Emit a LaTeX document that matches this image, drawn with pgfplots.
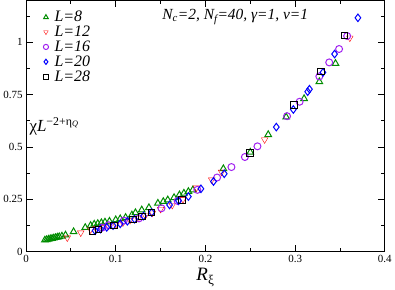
\documentclass[border=0pt]{standalone}
\usepackage{pgfplots}
\pgfplotsset{compat=1.18}
\usepackage{fontspec}
\setmainfont{Liberation Serif}
\definecolor{cgreen}{RGB}{0,140,0}
\definecolor{cred}{RGB}{255,0,0}
\definecolor{cpurple}{RGB}{160,32,240}
\definecolor{cblue}{RGB}{0,0,255}
\begin{document}
\begin{tikzpicture}
\begin{axis}[
  scale only axis,
  width=360pt, height=252pt,
  xmin=0, xmax=0.4, ymin=0, ymax=1.2,
  xtick={0,0.1,0.2,0.3,0.4},
  xticklabels={0,0.1,0.2,0.3,0.4},
  ytick={0,0.25,0.5,0.75,1},
  yticklabels={0,0.25,0.5,0.75,1},
  minor xtick={0.05,0.15,0.25,0.35},
  minor ytick={0.125,0.375,0.625,0.875,1.125},
  tick align=inside,
  major tick length=7pt, minor tick length=4pt,
  every tick/.style={black, line width=0.8pt},
  axis line style={line width=0.9pt},
  tick label style={font=\fontsize{11}{12}\selectfont},
  /pgf/number format/assume math mode=true,
  xlabel={\fontsize{19}{20}\selectfont\textit{R}\textsubscript{ξ}},
  xlabel style={yshift=1pt},
  legend style={draw=none, fill=none, at={(0.045,0.97)}, anchor=north west,
    font=\fontsize{16}{16}\selectfont\itshape, row sep=-1.2pt, inner sep=1pt},
  legend cell align=left,
  legend image post style={mark size=2.6pt},
  every axis plot/.append style={only marks, mark options={solid, line width=1pt, fill=none}},
]
\addplot[cgreen, mark=triangle, mark size=3.8pt] coordinates {
(0.021,0.055)(0.023,0.057)(0.025,0.059)(0.027,0.061)(0.029,0.063)(0.031,0.065)
(0.033,0.067)(0.035,0.069)(0.037,0.071)(0.040,0.074)(0.044,0.079)(0.053,0.095)
(0.066,0.115)(0.072,0.125)(0.076,0.131)(0.080,0.134)(0.084,0.138)(0.088,0.141)
(0.093,0.145)(0.100,0.152)(0.105,0.157)(0.111,0.163)(0.118,0.175)(0.122,0.186)
(0.129,0.199)(0.137,0.210)(0.147,0.231)(0.153,0.239)(0.158,0.247)(0.165,0.258)
(0.171,0.271)(0.176,0.279)(0.181,0.287)(0.186,0.295)(0.220,0.396)(0.250,0.475)
(0.270,0.559)(0.290,0.643)(0.310,0.731)(0.327,0.812)(0.345,0.899)
};
\addlegendentry{\hspace{4pt}L=8}
\addplot[cred, mark=triangle, mark options={rotate=180}, mark size=3.8pt] coordinates {
(0.046,0.066)(0.061,0.090)(0.072,0.105)(0.078,0.110)(0.085,0.116)(0.092,0.122)
(0.100,0.128)(0.108,0.138)(0.116,0.150)(0.125,0.160)(0.133,0.172)(0.141,0.185)
(0.150,0.203)(0.163,0.222)(0.175,0.250)(0.190,0.305)(0.207,0.343)(0.218,0.380)
(0.266,0.535)(0.361,1.021)
};
\addlegendentry{\hspace{4pt}L=12}
\addplot[cpurple, mark=o, mark size=3.5pt] coordinates {
(0.085,0.115)(0.092,0.126)(0.109,0.148)(0.126,0.159)(0.151,0.207)(0.169,0.242)
(0.191,0.295)(0.213,0.354)(0.229,0.404)(0.244,0.452)(0.258,0.503)(0.291,0.647)
(0.305,0.716)(0.327,0.837)(0.338,0.904)(0.349,0.968)(0.358,1.030)
};
\addlegendentry{\hspace{4pt}L=16}
\addplot[cblue, mark=diamond, mark size=3.8pt] coordinates {
(0.077,0.100)(0.083,0.108)(0.090,0.116)(0.097,0.124)(0.105,0.133)(0.113,0.145)
(0.121,0.155)(0.131,0.170)(0.140,0.187)(0.160,0.223)(0.170,0.243)
(0.181,0.263)(0.195,0.300)(0.209,0.335)(0.221,0.372)(0.279,0.595)(0.298,0.679)
(0.314,0.764)(0.316,0.776)(0.331,0.856)(0.344,0.944)(0.370,1.117)
};
\addlegendentry{\hspace{4pt}L=20}
\addplot[black, mark=square, mark size=3.3pt] coordinates {
(0.074,0.098)(0.081,0.106)(0.098,0.124)(0.119,0.154)(0.129,0.167)(0.140,0.187)
(0.174,0.247)(0.250,0.471)(0.299,0.700)(0.329,0.861)(0.355,1.032)
};
\addlegendentry{\hspace{4pt}L=28}
\node[anchor=west, font=\fontsize{17}{19}\selectfont] at (rel axis cs:0.0,0.5)
  {χ\textit{L}\textsuperscript{−2+η\textsubscript{\textit{Q}}}};
\node[font=\fontsize{15.5}{17}\selectfont\itshape] at (rel axis cs:0.583,0.935)
  {N\textsubscript{c}=2, N\textsubscript{f}=40, γ=1, ν=1};
\end{axis}
\end{tikzpicture}
\end{document}
